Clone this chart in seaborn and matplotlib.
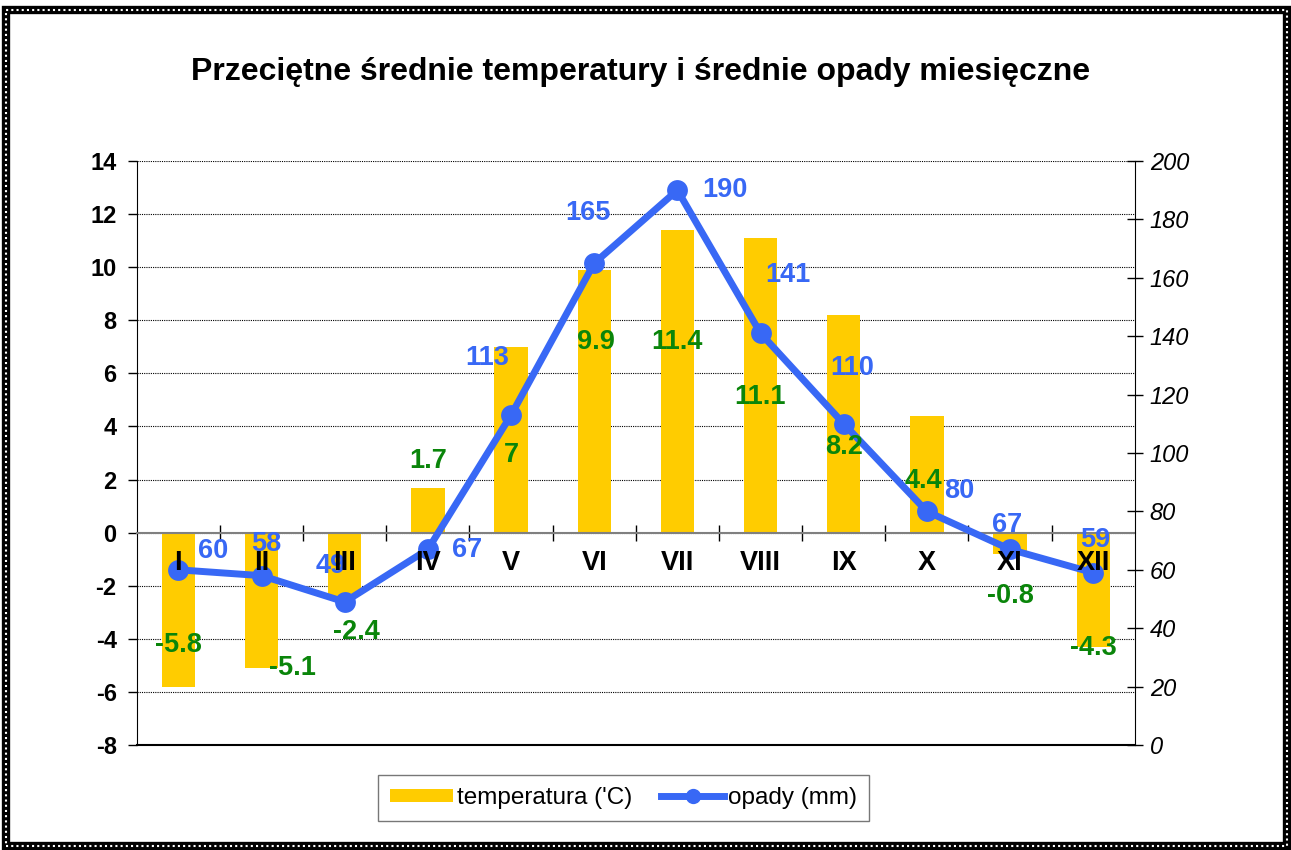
import numpy as np
import pandas as pd
import seaborn as sns
import matplotlib.pyplot as plt
from matplotlib.patches import Patch, Rectangle
from matplotlib.lines import Line2D

miesiace = ['I', 'II', 'III', 'IV', 'V', 'VI', 'VII', 'VIII', 'IX', 'X', 'XI', 'XII']
temperatura = [-5.8, -5.1, -2.4, 1.7, 7, 9.9, 11.4, 11.1, 8.2, 4.4, -0.8, -4.3]
opady = [60, 58, 49, 67, 113, 165, 190, 141, 110, 80, 67, 59]

# polozenie etykiet danych (przesuniecie w kategoriach, wysokosc w jednostkach osi)
temp_dx = [0, 0.37, 0.14, 0, 0, 0.02, 0, -0.01, 0, -0.04, 0, 0]
temp_y = [-4.22, -5.09, -3.73, 2.71, 2.94, 7.2, 7.2, 5.12, 3.24, 1.96, -2.37, -4.33]
opady_dx = [0.42, 0.05, -0.17, 0.47, -0.29, -0.08, 0.57, 0.33, 0.1, 0.39, -0.04, 0.02]
opady_y = [66.4, 68.8, 61.3, 66.8, 132.5, 182.2, 190.1, 161, 129, 87, 75.3, 70.2]

ZOLTY = '#FFCC00'
NIEBIESKI = '#3868F5'
ZIELONY = '#0A850A'

plt.rcParams['font.family'] = ['Liberation Sans', 'DejaVu Sans']
plt.rcParams['axes.unicode_minus'] = False

df = pd.DataFrame({'miesiac': miesiace, 'temperatura': temperatura,
                   'opady': opady, 'poz': np.arange(len(miesiace))})

fig = plt.figure(figsize=(12.91, 8.5), dpi=100, facecolor='white')
ax = fig.add_axes([0.106, 0.1235, 0.773, 0.6871])

sns.barplot(data=df, x='miesiac', y='temperatura', color=ZOLTY, saturation=1,
            width=0.4, ax=ax, zorder=2)
ax.set_xlabel('')
ax.set_ylabel('')
ax.set_ylim(-8, 14)
ax.set_yticks(range(-8, 15, 2))
ax.yaxis.grid(True, linestyle=(0, (1, 1)), color='black', lw=0.8)
ax.set_axisbelow(True)
for lab in ax.get_yticklabels():
    lab.set_fontweight('bold')
ax.tick_params(axis='y', labelsize=17, length=6.5, width=1, pad=8, direction='out')

ax.spines['top'].set_visible(False)
ax.spines['right'].set_visible(False)
ax.spines['left'].set_color('black')
ax.spines['bottom'].set_position(('data', 0))
ax.spines['bottom'].set_color('#808080')
ax.spines['bottom'].set_linewidth(1.5)
ax.set_xticks(range(12))
ax.set_xticks(np.arange(0.5, 11.5, 1), minor=True)
ax.tick_params(axis='x', which='major', length=0, labelbottom=False)
ax.tick_params(axis='x', which='minor', direction='inout', length=11, width=1, color='black')

ax2 = ax.twinx()
sns.lineplot(data=df, x='poz', y='opady', ax=ax2, color=NIEBIESKI, lw=5,
             marker='o', markersize=15, markeredgewidth=0, zorder=3)
ax2.set_xlabel('')
ax2.set_ylabel('')
ax2.set_ylim(0, 200)
ax2.set_yticks(range(0, 201, 20))
for lab in ax2.get_yticklabels():
    lab.set_fontstyle('italic')
ax2.tick_params(axis='y', labelsize=17, length=11.5, width=1, pad=5, direction='inout')
ax2.spines['top'].set_visible(False)
ax2.spines['left'].set_visible(False)
ax2.spines['right'].set_color('black')
ax2.spines['bottom'].set_color('black')
ax2.spines['bottom'].set_linewidth(1.5)
ax2.tick_params(axis='x', which='both', length=0, labelbottom=False)
ax.set_xlim(-0.5, 11.5)

for i in range(12):
    ax2.text(i + temp_dx[i], temp_y[i], f'{temperatura[i]:g}', transform=ax.transData,
             color=ZIELONY, fontsize=19.5, weight='bold', ha='center', va='center', zorder=5)
    ax2.text(i + opady_dx[i], opady_y[i], str(opady[i]), color=NIEBIESKI,
             fontsize=19.5, weight='bold', ha='center', va='center', zorder=5)
    ax2.text(i, -1.13, miesiace[i], transform=ax.transData, color='black',
             fontsize=19.5, weight='bold', ha='center', va='center', zorder=6)

fig.text(0.496, 1 - 72 / 850, 'Przeciętne średnie temperatury i średnie opady miesięczne',
         ha='center', va='center', fontsize=23, weight='bold')

uchwyty = [Patch(facecolor=ZOLTY, edgecolor='none', label="temperatura ('C)"),
           Line2D([0], [0], color=NIEBIESKI, lw=5, marker='o', markersize=11,
                  markeredgewidth=0, label='opady (mm)')]
leg = fig.legend(handles=uchwyty, loc='center', bbox_to_anchor=(0.483, 0.061), ncol=2,
                 fontsize=17.5, frameon=True, fancybox=False, edgecolor='#555555',
                 handlelength=2.6, handleheight=0.5, columnspacing=1.2, handletextpad=0.15,
                 borderpad=0.5, borderaxespad=0)
leg.get_frame().set_linewidth(1)

# ramka wokol wykresu
ramka = Rectangle((6 / 1291, 4 / 850), 1 - 10 / 1291, 1 - 14 / 850, transform=fig.transFigure,
                  fill=False, edgecolor='black', lw=6, zorder=10)
fig.patches.append(ramka)
ramka2 = Rectangle((6 / 1291, 4 / 850), 1 - 10 / 1291, 1 - 14 / 850, transform=fig.transFigure,
                   fill=False, edgecolor='white', lw=1.5, linestyle=(0, (1, 1.5)), zorder=11)
fig.patches.append(ramka2)

plt.savefig('out.png', dpi=100, facecolor='white')
